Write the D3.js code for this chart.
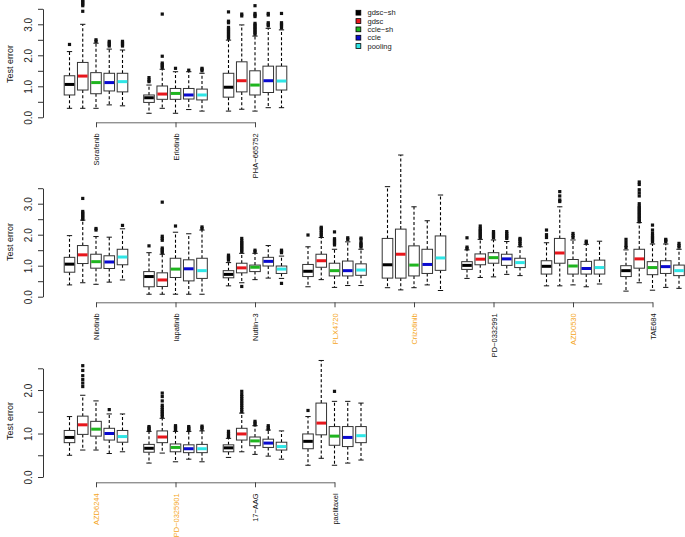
<!DOCTYPE html>
<html><head><meta charset="utf-8">
<script src="https://cdn.jsdelivr.net/npm/d3@7"></script>
<style>body{margin:0;background:#fff}svg{display:block;font-family:"Liberation Sans",Arial,Helvetica,sans-serif}</style>
</head><body><svg id="c" width="685" height="537"></svg>
<script>
// series (R boxplot groups within each drug)
const seriesNames = ["gdsc\u2212sh","gdsc","ccle\u2212sh","ccle","pooling"];
const seriesColors = ["#000000","#e8161c","#1fb51f","#0a0ad0","#2ee6e6"];

// drugs per panel and label colour flag (orange highlight)
const drugsTop = ["Sorafenib","Erlotinib","PHA\u2212665752"];
const drugsMid = ["Nilotinib","lapatinib","Nutlin\u22123","PLX4720","Crizotinib","PD\u22120332991","AZD0530","TAE684"];
const drugsBot = ["AZD6244","PD\u22120325901","17\u2212AAG","paclitaxel"];
const highlighted = ["PLX4720","Crizotinib","AZD0530","AZD6244","PD\u22120325901"];

// y tick values
const ticksTop = [0,0.5,1,1.5,2,2.5,3,3.5];
const ticksMid = [0,0.5,1,1.5,2,2.5,3,3.5];
const ticksBot = [0,0.5,1,1.5,2,2.5];

// box stats per drug: [whiskerLow, Q1, median, Q3, whiskerHigh, outliers]
const Sorafenib = [
 [0.29,0.72,1.06,1.34,2.12,[2.35]],
 [0.29,0.88,1.33,1.77,3.0,[3.42,3.6,3.65,3.7,3.75,3.8,3.9]],
 [0.29,0.76,1.12,1.44,2.39,[2.45,2.5]],
 [0.4,0.85,1.12,1.42,2.2,[2.3,2.35,2.4,2.45]],
 [0.37,0.82,1.15,1.42,2.17,[2.3,2.35,2.4,2.45]]];
const Erlotinib = [
 [0.13,0.48,0.63,0.72,1.04,[1.15,1.2,1.28]],
 [0.29,0.58,0.75,1.01,1.55,[1.6,1.65,1.7,1.75,1.97,3.33]],
 [0.13,0.58,0.77,0.93,1.47,[1.58]],
 [0.25,0.59,0.72,0.93,1.47,[1.52]],
 [0.2,0.56,0.72,0.91,1.42,[1.5,1.55,1.58]]];
const PHA665752 = [
 [0.2,0.65,0.97,1.42,2.49,[2.55,2.6,2.65,2.7,2.75,2.8,2.85,2.9,3.05,3.1,3.4]],
 [0.26,0.82,1.18,1.79,2.98,[3.27,3.33]],
 [0.2,0.72,1.04,1.5,2.62,[2.68,2.73,2.78,2.83,2.88,2.93,2.98,3.03,3.25,3.3,3.35,3.6]],
 [0.31,0.8,1.18,1.65,2.87,[2.95,3.0,3.05,3.3,3.35]],
 [0.31,0.88,1.17,1.65,2.82,[2.88,2.95,3.0,3.05,3.35]]];
const Nilotinib = [
 [0.38,0.79,1.05,1.27,1.97,[]],
 [0.45,1.07,1.35,1.65,2.47,[2.5,2.55,2.6,2.65,2.7,2.75,3.17]],
 [0.4,0.92,1.13,1.37,1.94,[2.15,2.2]],
 [0.47,0.91,1.12,1.32,1.92,[]],
 [0.54,1.03,1.28,1.53,2.19,[2.3]]];
const lapatinib = [
 [0.08,0.32,0.65,0.81,1.42,[1.64]],
 [0.08,0.33,0.54,0.77,1.37,[1.42,1.47,1.52,1.57,1.82,1.88,1.95,3.05]],
 [0.08,0.62,0.89,1.24,2.08,[2.28]],
 [0.08,0.51,0.9,1.19,2.03,[]],
 [0.08,0.59,0.84,1.24,2.15,[2.2,2.25]]];
const Nutlin3 = [
 [0.35,0.61,0.72,0.84,1.1,[1.18,1.22,1.26,1.3,1.34]],
 [0.45,0.77,0.93,1.08,1.4,[0.33,1.45,1.5,1.55,1.6,1.65,1.7,1.75,1.8,1.88]],
 [0.55,0.81,0.95,1.02,1.4,[1.45,1.5]],
 [0.6,0.99,1.14,1.27,1.65,[]],
 [0.59,0.75,0.89,0.99,1.31,[0.43,1.42,1.46,1.5]]];
const PLX4720 = [
 [0.32,0.65,0.82,1.04,1.61,[1.99]],
 [0.55,0.95,1.16,1.37,1.91,[1.96,2.02,2.08,2.14,2.2,2.24]],
 [0.3,0.67,0.84,1.08,1.53,[1.67,1.72,1.77,1.82,1.87,2.09]],
 [0.36,0.67,0.84,1.15,1.77,[1.85,1.9]],
 [0.36,0.69,0.86,1.06,1.53,[1.6,1.65,1.7,1.75,1.85,1.89]]];
const Crizotinib = [
 [0.29,0.6,1.03,1.88,3.55,[]],
 [0.22,0.6,1.37,2.18,4.57,[]],
 [0.29,0.67,1.02,1.64,2.9,[]],
 [0.38,0.75,1.04,1.53,2.45,[]],
 [0.2,0.85,1.25,1.96,3.28,[]]];
const PD0332991 = [
 [0.59,0.88,1.01,1.13,1.51,[1.55,1.6,1.9]],
 [0.62,1.03,1.21,1.38,1.85,[1.9,1.95,2.0,2.05,2.1,2.15,2.2,2.28]],
 [0.64,1.08,1.26,1.42,1.83,[1.9,1.95,2.0,2.05,2.1]],
 [0.72,1.01,1.22,1.37,1.78,[1.88,1.93,1.98,2.04,2.1]],
 [0.68,0.94,1.1,1.24,1.61,[1.66,1.72,1.78,1.84,1.88]]];
const AZD0530 = [
 [0.35,0.73,0.98,1.16,1.74,[1.91,2.0,2.15]],
 [0.35,1.08,1.41,1.88,2.9,[3.07,3.12,3.25,3.39]],
 [0.38,0.73,0.99,1.2,1.83,[1.91,1.97,2.04]],
 [0.32,0.73,0.91,1.14,1.69,[1.74,1.79]],
 [0.41,0.73,0.94,1.18,1.79,[]]];
const TAE684 = [
 [0.18,0.65,0.84,1.0,1.51,[1.59,1.65,1.75,1.85]],
 [0.45,0.92,1.22,1.53,2.39,[2.42,2.47,2.52,2.57,2.62,2.67,2.72,2.77,2.82,2.87,2.92,3.0,3.25,3.35,3.45,3.62,3.7]],
 [0.21,0.71,0.94,1.13,1.7,[1.77,1.82,1.87,1.92,1.97,2.05,2.15,2.31]],
 [0.3,0.75,0.97,1.16,1.7,[1.77,1.82,1.85]],
 [0.27,0.68,0.84,1.02,1.53,[1.6,1.65,1.72]]];
const AZD6244 = [
 [0.5,0.79,0.91,1.07,1.39,[]],
 [0.62,0.98,1.2,1.4,1.88,[2.08,2.16,2.24,2.33,2.45,2.56]],
 [0.62,0.94,1.1,1.28,1.75,[]],
 [0.54,0.85,1.0,1.12,1.45,[1.55]],
 [0.58,0.8,0.93,1.07,1.45,[]]];
const PD0325901 = [
 [0.32,0.57,0.66,0.75,1.05,[1.07,1.1,1.13,1.16]],
 [0.55,0.79,0.92,1.06,1.35,[1.39,1.43,1.47,1.51,1.55,1.6,1.65,1.75,1.85,1.93]],
 [0.35,0.58,0.68,0.76,1.05,[1.08,1.12,1.15,1.18]],
 [0.41,0.56,0.65,0.74,1.05,[1.07,1.1,1.13,1.16]],
 [0.35,0.56,0.65,0.75,1.06,[1.1,1.14,1.17]]];
const AAG17 = [
 [0.45,0.58,0.67,0.74,0.89,[0.92,0.96,1.0,1.05]],
 [0.58,0.85,0.99,1.12,1.47,[1.5,1.55,1.6,1.65,1.7,1.75,1.8,1.85,1.9,1.97]],
 [0.52,0.72,0.83,0.92,1.18,[1.2,1.24,1.28]],
 [0.48,0.68,0.78,0.87,1.08,[1.1,1.14,1.18]],
 [0.41,0.62,0.7,0.8,1.06,[]]];
const paclitaxel = [
 [0.27,0.65,0.82,0.99,1.39,[1.53]],
 [0.43,0.97,1.24,1.7,2.68,[]],
 [0.27,0.73,0.94,1.16,1.74,[1.97]],
 [0.32,0.7,0.91,1.16,1.74,[]],
 [0.39,0.79,0.95,1.16,1.7,[]]];

const statsTop = [Sorafenib, Erlotinib, PHA665752];
const statsMid = [Nilotinib, lapatinib, Nutlin3, PLX4720, Crizotinib, PD0332991, AZD0530, TAE684];
const statsBot = [AZD6244, PD0325901, AAG17, paclitaxel];

// ---------------- drawing ----------------
const svg = d3.select("#c");
const perGroup = 6; // 5 boxes + one gap slot
const slot = 13.25;
const x = d3.scaleLinear().domain([0, 1]).range([69.5, 69.5 + slot]);
const boxW = 10.6, capW = 5.3;

const panels = [
  {drugs: drugsTop, stats: statsTop, ticks: ticksTop, y0: 117.3, yTop: 8.8, titleY: 64, bracketY: 122.3},
  {drugs: drugsMid, stats: statsMid, ticks: ticksMid, y0: 296.7, yTop: 188.2, titleY: 242, bracketY: 302.3},
  {drugs: drugsBot, stats: statsBot, ticks: ticksBot, y0: 477, yTop: 368.3, titleY: 421, bracketY: 482.3}
];

panels.forEach(p => {
  const maxT = p.ticks[p.ticks.length - 1];
  const y = d3.scaleLinear().domain([0, maxT]).range([p.y0, p.yTop]);
  const g = svg.append("g");

  // y axis
  const ax = g.append("g").attr("transform", "translate(43,0)")
    .call(d3.axisLeft(y).tickValues(p.ticks).tickSize(5).tickSizeOuter(0)
      .tickFormat(d => Number.isInteger(d) ? d3.format(".1f")(d) : ""));
  ax.select(".domain").attr("stroke", "#333");
  ax.selectAll(".tick line").attr("stroke", "#333");
  ax.selectAll(".tick text").attr("x", null).attr("dy", null)
    .attr("transform", "translate(-11.5,0) rotate(-90)")
    .attr("text-anchor", "middle").attr("font-size", 10).attr("fill", "#222");

  g.append("text").attr("transform", `translate(13,${p.titleY}) rotate(-90)`)
    .attr("text-anchor", "middle").attr("font-size", 9).attr("fill", "#111").text("Test error");

  // boxes
  p.stats.forEach((drugStats, i) => {
    drugStats.forEach((s, j) => {
      const cx = x(i * perGroup + j);
      const [lo, q1, med, q3, hi, outs] = s;
      const bg = g.append("g");
      // whiskers
      [[q3, hi], [q1, lo]].forEach(([a, b]) => {
        bg.append("line").attr("x1", cx).attr("x2", cx).attr("y1", y(a)).attr("y2", y(b))
          .attr("stroke", "#000").attr("stroke-dasharray", "3,2.2").attr("stroke-width", 1.1);
        bg.append("line").attr("x1", cx - capW / 2).attr("x2", cx + capW / 2).attr("y1", y(b)).attr("y2", y(b))
          .attr("stroke", "#111").attr("stroke-width", 1);
      });
      bg.append("rect").attr("x", cx - boxW / 2).attr("width", boxW)
        .attr("y", y(q3)).attr("height", y(q1) - y(q3))
        .attr("fill", "#fff").attr("stroke", "#333").attr("stroke-width", 1);
      bg.append("line").attr("x1", cx - boxW / 2 + 0.5).attr("x2", cx + boxW / 2 - 0.5)
        .attr("y1", y(med)).attr("y2", y(med))
        .attr("stroke", seriesColors[j]).attr("stroke-width", 3);
      bg.selectAll("rect.out").data(outs).join("rect").attr("class", "out")
        .attr("x", cx - 1.6).attr("y", d => y(d) - 1.6).attr("width", 3.2).attr("height", 3.2)
        .attr("fill", "#111");
    });
  });

  // drug bracket axis
  const xp = d3.scalePoint().domain(p.drugs)
    .range([x(2), x((p.drugs.length - 1) * perGroup + 2)]).padding(0);
  const bx = g.append("g").attr("transform", `translate(0,${p.bracketY})`)
    .call(d3.axisBottom(xp).tickSize(5).tickSizeOuter(0));
  bx.select(".domain").attr("stroke", "#666");
  bx.selectAll(".tick line").attr("stroke", "#444");
  bx.selectAll(".tick text").attr("y", null).attr("dy", null)
    .attr("transform", "translate(0,11) rotate(-90)")
    .attr("text-anchor", "end").attr("dominant-baseline", "central")
    .attr("font-size", 7.5)
    .attr("fill", d => highlighted.includes(d) ? "#f5a623" : "#111");
});

// legend
const leg = svg.append("g").attr("transform", "translate(356,12.7)");
seriesNames.forEach((n, i) => {
  const r = leg.append("g").attr("transform", `translate(0,${i * 8.33})`);
  r.append("rect").attr("x", 0).attr("y", -2.4).attr("width", 4.8).attr("height", 4.8)
    .attr("fill", seriesColors[i]).attr("stroke", "#000").attr("stroke-width", 0.8);
  r.append("text").attr("x", 11.5).attr("y", 0).attr("dominant-baseline", "central")
    .attr("font-size", 7.5).attr("fill", "#222").text(n);
});
</script></body></html>
